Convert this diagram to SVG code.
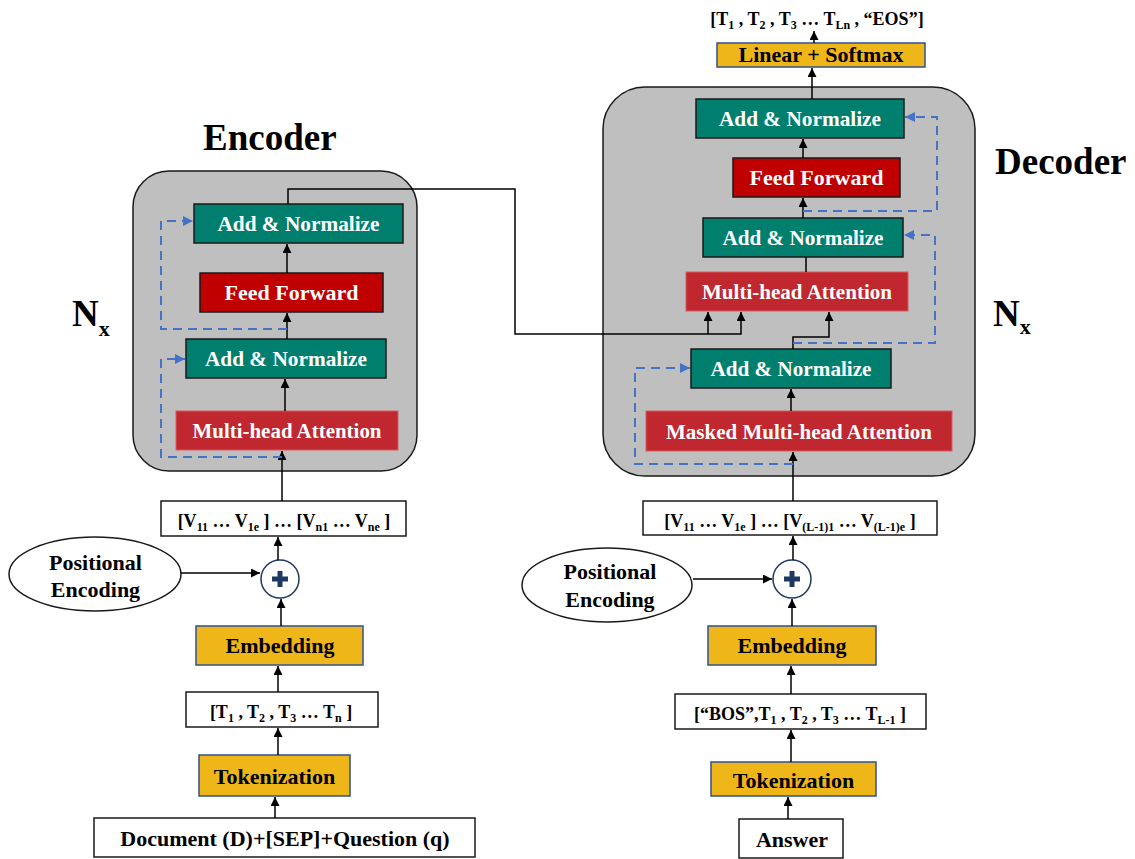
<svg xmlns="http://www.w3.org/2000/svg" width="1135" height="859" viewBox="0 0 1135 859">
<defs>
<marker id="ah" markerUnits="userSpaceOnUse" markerWidth="10" markerHeight="10" refX="9" refY="4.5" orient="auto"><path d="M0,0 L9,4.5 L0,9 z" fill="#000"/></marker>
<marker id="ahb" markerUnits="userSpaceOnUse" markerWidth="12" markerHeight="12" refX="10" refY="5" orient="auto"><path d="M0,0 L10,5 L0,10 z" fill="#4472C4"/></marker>
<style>
.big{fill:#BFBFBF;stroke:#1a1a1a;stroke-width:1.5}
.teal{fill:#007F6F;stroke:#1a1a1a;stroke-width:1.5}
.ff{fill:#C00000;stroke:#1a1a1a;stroke-width:1.5}
.mha{fill:#C0272F;stroke:#D75A5F;stroke-width:1}
.yel{fill:#EEB618;stroke:#2F528F;stroke-width:1.5}
.wb{fill:#fff;stroke:#1a1a1a;stroke-width:1.5}
.lbl{font-family:"Liberation Serif","Times New Roman",serif;font-weight:bold;font-size:22px;text-anchor:middle}
.w{fill:#fff}
.k{fill:#000}
.seq{font-family:"Liberation Serif","Times New Roman",serif;font-weight:bold;font-size:18px;text-anchor:middle;fill:#000}
.sub{font-size:12px}
.ttl{font-family:"Liberation Serif","Times New Roman",serif;font-weight:bold;font-size:37px;fill:#000}
.c{fill:none;stroke:#000;stroke-width:1.5}
.ca{fill:none;stroke:#000;stroke-width:1.5;marker-end:url(#ah)}
.d{fill:none;stroke:#4472C4;stroke-width:2;stroke-dasharray:9,6;marker-end:url(#ahb)}
</style>
</defs>

<g id="titles">
<text class="ttl" x="203" y="150">Encoder</text>
<text class="ttl" x="995" y="174">Decoder</text>
<text class="ttl" x="72" y="326">N<tspan font-size="22" dy="10">x</tspan></text>
<text class="ttl" x="993" y="326">N<tspan font-size="22" dy="8">x</tspan></text>
</g>

<g id="encoder-block"><rect class="big" x="133" y="171" width="284" height="300" rx="36"/></g>
<g id="decoder-block"><rect class="big" x="603" y="87" width="372" height="389" rx="42"/></g>

<g id="enc-an2"><rect class="teal" x="194" y="204" width="209" height="39"/><text class="lbl w" x="298.5" y="231" textLength="162" lengthAdjust="spacingAndGlyphs">Add &amp; Normalize</text></g>
<g id="enc-ff"><rect class="ff" x="200" y="273" width="183" height="39"/><text class="lbl w" x="291.5" y="300">Feed Forward</text></g>
<g id="enc-an1"><rect class="teal" x="186" y="339" width="200" height="39"/><text class="lbl w" x="286" y="366" textLength="162" lengthAdjust="spacingAndGlyphs">Add &amp; Normalize</text></g>
<g id="enc-mha"><rect class="mha" x="176" y="411" width="222" height="39"/><text class="lbl w" x="287" y="438" textLength="189" lengthAdjust="spacingAndGlyphs">Multi-head Attention</text></g>

<g id="dec-an3"><rect class="teal" x="696" y="99" width="208" height="39"/><text class="lbl w" x="800" y="126" textLength="162" lengthAdjust="spacingAndGlyphs">Add &amp; Normalize</text></g>
<g id="dec-ff"><rect class="ff" x="733" y="158" width="167" height="39"/><text class="lbl w" x="816.5" y="185">Feed Forward</text></g>
<g id="dec-an2"><rect class="teal" x="703" y="218" width="200" height="39"/><text class="lbl w" x="803" y="245" textLength="161" lengthAdjust="spacingAndGlyphs">Add &amp; Normalize</text></g>
<g id="dec-mha"><rect class="mha" x="686" y="272" width="222" height="39"/><text class="lbl w" x="797" y="299" textLength="190" lengthAdjust="spacingAndGlyphs">Multi-head Attention</text></g>
<g id="dec-an1"><rect class="teal" x="691" y="349" width="200" height="39"/><text class="lbl w" x="791" y="376" textLength="161" lengthAdjust="spacingAndGlyphs">Add &amp; Normalize</text></g>
<g id="dec-mmha"><rect class="mha" x="646" y="411" width="306" height="40"/><text class="lbl w" x="799" y="439" textLength="266" lengthAdjust="spacingAndGlyphs">Masked Multi-head Attention</text></g>

<g id="linear"><rect class="yel" x="717" y="43" width="208" height="24"/><text class="lbl k" x="821" y="62">Linear + Softmax</text></g>
<g id="output"><text class="seq" x="817" y="25">[T<tspan class="sub" dy="4">1</tspan><tspan dy="-4"> , T</tspan><tspan class="sub" dy="4">2</tspan><tspan dy="-4"> , T</tspan><tspan class="sub" dy="4">3</tspan><tspan dy="-4"> … T</tspan><tspan class="sub" dy="4">Ln</tspan><tspan dy="-4"> , “EOS”]</tspan></text></g>

<g id="enc-vec"><rect class="wb" x="161" y="501" width="245" height="35"/><text class="seq" x="284" y="527">[V<tspan class="sub" dy="4">11</tspan><tspan dy="-4"> … V</tspan><tspan class="sub" dy="4">1e</tspan><tspan dy="-4"> ] … [V</tspan><tspan class="sub" dy="4">n1</tspan><tspan dy="-4"> … V</tspan><tspan class="sub" dy="4">ne</tspan><tspan dy="-4"> ]</tspan></text></g>
<g id="enc-pos"><ellipse cx="95" cy="574" rx="86" ry="37" fill="#fff" stroke="#1a1a1a" stroke-width="1.5"/><text class="lbl k" x="95.5" y="570">Positional</text><text class="lbl k" x="95.5" y="597">Encoding</text></g>
<g id="enc-plus"><circle cx="280" cy="579" r="19" fill="#fff" stroke="#1F3864" stroke-width="1.5"/><path d="M277.5,571 h5 v5.5 h5.5 v5 h-5.5 v5.5 h-5 v-5.5 h-5.5 v-5 h5.5 z" fill="#1F3864"/></g>
<g id="enc-emb"><rect class="yel" x="196" y="626" width="167" height="39"/><text class="lbl k" x="280" y="653">Embedding</text></g>
<g id="enc-tok"><rect class="wb" x="186" y="692" width="192" height="35"/><text class="seq" x="281" y="718">[T<tspan class="sub" dy="4">1</tspan><tspan dy="-4"> , T</tspan><tspan class="sub" dy="4">2</tspan><tspan dy="-4"> , T</tspan><tspan class="sub" dy="4">3</tspan><tspan dy="-4"> … T</tspan><tspan class="sub" dy="4">n</tspan><tspan dy="-4"> ]</tspan></text></g>
<g id="enc-tokenization"><rect class="yel" x="199" y="755" width="151" height="41"/><text class="lbl k" x="274.5" y="784">Tokenization</text></g>
<g id="enc-doc"><rect class="wb" x="94" y="818" width="381" height="39"/><text class="lbl k" x="285" y="846">Document (D)+[SEP]+Question (q)</text></g>

<g id="dec-vec"><rect class="wb" x="643" y="501" width="294" height="34"/><text class="seq" x="790" y="527">[V<tspan class="sub" dy="4">11</tspan><tspan dy="-4"> … V</tspan><tspan class="sub" dy="4">1e</tspan><tspan dy="-4"> ] … [V</tspan><tspan class="sub" dy="4">(L-1)1</tspan><tspan dy="-4"> … V</tspan><tspan class="sub" dy="4">(L-1)e</tspan><tspan dy="-4"> ]</tspan></text></g>
<g id="dec-pos"><ellipse cx="607" cy="585" rx="85" ry="37" fill="#fff" stroke="#1a1a1a" stroke-width="1.5"/><text class="lbl k" x="610" y="579">Positional</text><text class="lbl k" x="610" y="607">Encoding</text></g>
<g id="dec-plus"><circle cx="792" cy="579" r="19" fill="#fff" stroke="#1F3864" stroke-width="1.5"/><path d="M789.5,571 h5 v5.5 h5.5 v5 h-5.5 v5.5 h-5 v-5.5 h-5.5 v-5 h5.5 z" fill="#1F3864"/></g>
<g id="dec-emb"><rect class="yel" x="708" y="626" width="168" height="39"/><text class="lbl k" x="792" y="653">Embedding</text></g>
<g id="dec-tok"><rect class="wb" x="675" y="694" width="251" height="35"/><text class="seq" x="800" y="720">[“BOS”,T<tspan class="sub" dy="4">1</tspan><tspan dy="-4"> , T</tspan><tspan class="sub" dy="4">2</tspan><tspan dy="-4"> , T</tspan><tspan class="sub" dy="4">3</tspan><tspan dy="-4"> … T</tspan><tspan class="sub" dy="4">L-1</tspan><tspan dy="-4"> ]</tspan></text></g>
<g id="dec-tokenization"><rect class="yel" x="711" y="762" width="165" height="34"/><text class="lbl k" x="793.5" y="788">Tokenization</text></g>
<g id="dec-answer"><rect class="wb" x="739" y="819" width="104" height="39"/><text class="lbl k" x="792" y="847">Answer</text></g>

<g id="connectors">
<path class="ca" d="M282,501 V451"/>
<path class="ca" d="M285,411 V379"/>
<path class="ca" d="M287,339 V313"/>
<path class="ca" d="M287,273 V244"/>
<path class="d" d="M282,457 H161 V359 H185"/>
<path class="d" d="M287,329 H161 V221 H193"/>
<path class="ca" d="M288,204 V189 H515 V334 H741 V312"/>
<path class="ca" d="M708,334 V312"/>
<path class="ca" d="M793,501 V452"/>
<path class="ca" d="M791,411 V389"/>
<path class="ca" d="M793,349 V337 H829 V312"/>
<path class="d" d="M793,464 H635 V368 H690"/>
<path class="d" d="M793,343 H935 V235 H904"/>
<path class="c" d="M806,272 V257"/>
<path class="ca" d="M803,218 V198"/>
<path class="d" d="M803,211 H937 V117 H905"/>
<path class="ca" d="M803,158 V139"/>
<path class="ca" d="M812,99 V68"/>
<path class="ca" d="M814,43 V31"/>
<path class="ca" d="M181,573 H260"/>
<path class="ca" d="M278,560 V537"/>
<path class="ca" d="M281,626 V599"/>
<path class="ca" d="M278,692 V666"/>
<path class="ca" d="M278,755 V728"/>
<path class="ca" d="M275,818 V797"/>
<path class="ca" d="M693,579 H772"/>
<path class="ca" d="M793,560 V536"/>
<path class="ca" d="M792,626 V599"/>
<path class="ca" d="M791,694 V666"/>
<path class="ca" d="M791,762 V730"/>
<path class="ca" d="M788,819 V797"/>
</g>
</svg>
